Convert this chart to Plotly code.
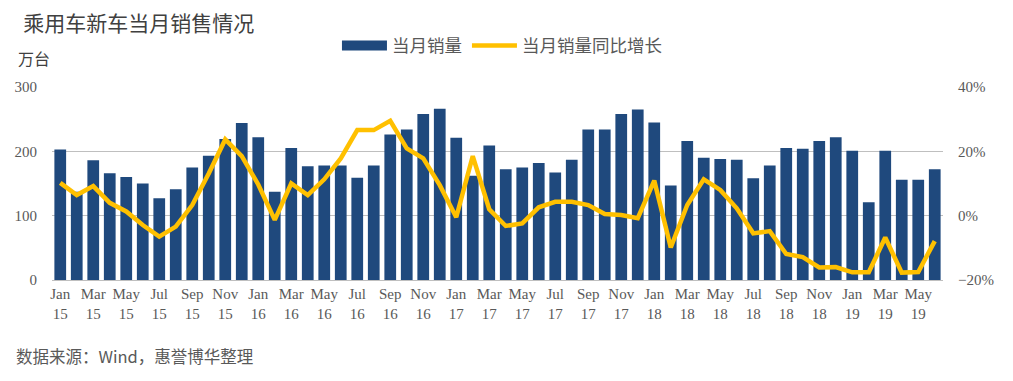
import plotly.graph_objects as go

months = ["Jan", "Feb", "Mar", "Apr", "May", "Jun", "Jul", "Aug", "Sep", "Oct", "Nov", "Dec"]
years = ["15", "16", "17", "18", "19"]
categories = [f"{m} {y}" for y in years for m in months][:54]

# 当月销量 (万台)
sales = [
    203, 137, 186, 166, 160, 150, 127, 141, 175, 193, 219, 244,
    222, 137, 205, 177, 178, 178, 159, 178, 226, 234, 258, 266,
    221, 162, 209, 172, 175, 182, 167, 187, 234, 234, 258, 265,
    245, 147, 216, 190, 188, 187, 158, 178, 205, 204, 216, 222,
    201, 121, 201, 156, 156, 172,
]

# 当月销量同比增长 (%)
yoy = [
    10.2, 6.4, 9.2, 4.0, 1.3, -2.9, -6.5, -3.4, 3.3, 13.1, 23.7, 18.5,
    9.7, -1.3, 10.0, 6.4, 11.3, 17.8, 26.6, 26.6, 29.5, 20.9, 17.8, 9.5,
    -0.5, 18.5, 2.0, -3.2, -2.4, 2.6, 4.3, 4.3, 3.3, 0.5, 0.2, -0.8,
    10.9, -9.9, 3.3, 11.3, 8.0, 2.3, -5.5, -4.8, -11.9, -12.9, -16.1, -16.0,
    -17.6, -17.6, -6.8, -17.7, -17.5, -7.9,
]

tick_vals = categories[::2]
tick_text = [f"{c.split()[0]}<br>{c.split()[1]}" for c in tick_vals]

serif = "Liberation Serif, Times New Roman, serif"
cjk = "Noto Sans CJK SC, sans-serif"
gray = "#595959"
navy = "#1F497D"

fig = go.Figure()
fig.add_trace(go.Bar(
    x=categories, y=sales, name="当月销量",
    marker=dict(color=navy, line=dict(width=0)),
    yaxis="y", showlegend=False,
))
# legend proxy for the bar series (wide rectangle like the original)
fig.add_trace(go.Scatter(
    x=[None], y=[None], name="当月销量",
    mode="lines", line=dict(color=navy, width=10),
    yaxis="y", showlegend=True,
))
fig.add_trace(go.Scatter(
    x=categories, y=yoy, name="当月销量同比增长",
    mode="lines", line=dict(color="#FFC000", width=4.5),
    yaxis="y2",
))

fig.update_layout(
    width=1013, height=381,
    margin=dict(l=44, r=78, t=79, b=109, autoexpand=False),
    paper_bgcolor="white", plot_bgcolor="white",
    bargap=0.29,
    showlegend=True,
    legend=dict(
        orientation="h", x=0.505, xanchor="center", y=1.215, yanchor="middle",
        font=dict(family=cjk, size=17.5, color=gray),
        itemwidth=45, tracegroupgap=0,
    ),
    title=dict(
        text="乘用车新车当月销售情况",
        x=0.015, xanchor="left", y=0.958, yanchor="middle",
        font=dict(family=cjk, size=21, color="#404040"),
    ),
    xaxis=dict(
        type="category",
        range=[-0.5, 53.5],
        tickmode="array", tickvals=tick_vals, ticktext=tick_text,
        tickangle=0,
        tickfont=dict(family=serif, size=15, color=gray),
        showgrid=False, showline=True, linecolor="#BFBFBF", linewidth=1,
        ticks="",
    ),
    yaxis=dict(
        range=[0, 300], dtick=100, tick0=0,
        showgrid=True, gridcolor="#BFBFBF", gridwidth=1,
        zeroline=False, showline=False, ticks="",
        tickfont=dict(family=serif, size=15, color=gray),
        ticklabelstandoff=14,
    ),
    yaxis2=dict(
        range=[-20, 40], dtick=20, tick0=-20,
        overlaying="y", side="right",
        showgrid=False, zeroline=False, showline=False, ticks="",
        ticksuffix="%",
        tickfont=dict(family=serif, size=15, color=gray),
        ticklabelstandoff=14,
    ),
    annotations=[
        dict(text="万台", xref="paper", yref="paper", x=-0.04, y=1.15,
             xanchor="left", yanchor="middle", showarrow=False,
             font=dict(family=cjk, size=16, color="#404040")),
        dict(text="数据来源：Wind，惠誉博华整理", xref="paper", yref="paper",
             x=-0.043, y=-0.394, xanchor="left", yanchor="middle", showarrow=False,
             font=dict(family=cjk, size=16.5, color=gray)),
    ],
)

fig.write_html("out.html")
